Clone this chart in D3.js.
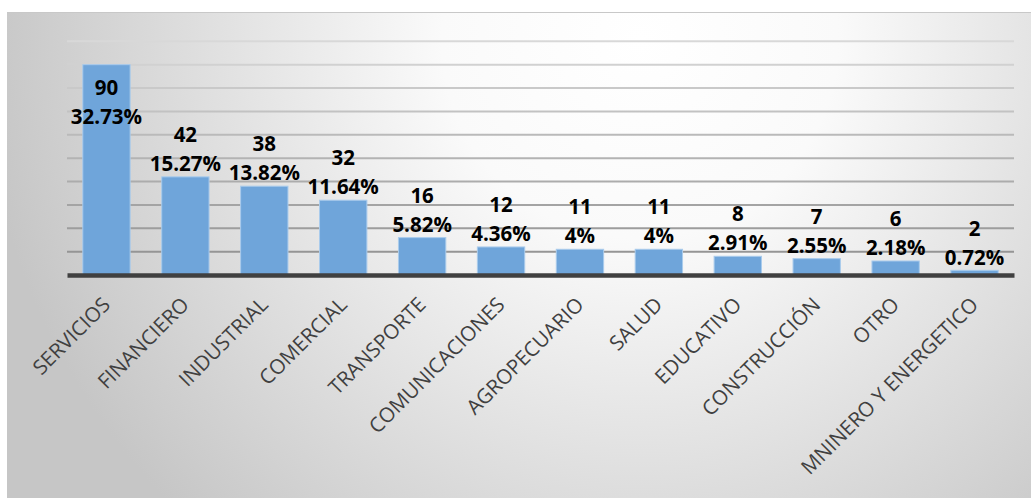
<!DOCTYPE html>
<html>
<head>
<meta charset="utf-8">
<script src="https://cdn.jsdelivr.net/npm/d3@7"></script>
<style>
  html, body { margin: 0; padding: 0; background: #ffffff; }
  svg { display: block; }
</style>
</head>
<body>
<script>
const categories = ["SERVICIOS", "FINANCIERO", "INDUSTRIAL", "COMERCIAL", "TRANSPORTE", "COMUNICACIONES", "AGROPECUARIO", "SALUD", "EDUCATIVO", "CONSTRUCCIÓN", "OTRO", "MNINERO Y ENERGETICO"];
const counts = [90, 42, 38, 32, 16, 12, 11, 11, 8, 7, 6, 2];
const percentLabels = ["32.73%", "15.27%", "13.82%", "11.64%", "5.82%", "4.36%", "4%", "4%", "2.91%", "2.55%", "2.18%", "0.72%"];
const yTicks = [0, 10, 20, 30, 40, 50, 60, 70, 80, 90, 100];

const W = 1031, H = 498;
const svg = d3.select("body").append("svg").attr("width", W).attr("height", H);
const defs = svg.append("defs");

const rg = defs.append("radialGradient").attr("id", "bg")
  .attr("gradientUnits", "userSpaceOnUse")
  .attr("cx", 640).attr("cy", 40).attr("r", 660);
rg.append("stop").attr("offset", "0%").attr("stop-color", "#ffffff");
rg.append("stop").attr("offset", "30%").attr("stop-color", "#fafafa");
rg.append("stop").attr("offset", "100%").attr("stop-color", "#c6c6c6");

// chart frame
svg.append("rect").attr("x", 7).attr("y", 12).attr("width", W - 7).attr("height", H - 12)
  .attr("fill", "url(#bg)");
svg.append("line").attr("x1", 7).attr("x2", W).attr("y1", 12.5).attr("y2", 12.5)
  .attr("stroke", "#c8c8c8").attr("stroke-width", 1);

const plotL = 67, plotR = 1014, plotT = 41.3, plotB = 275;

const x = d3.scaleBand().domain(categories).range([plotL, plotR]).paddingInner(0.4).paddingOuter(0.2);
const y = d3.scaleLinear().domain([0, 100]).range([plotB, plotT]);

const gridColor = d3.interpolateRgb("#d8d8d8", "#8e8e8e");
svg.append("g").selectAll("line").data(yTicks.filter(t => t > 0)).join("line")
  .attr("x1", plotL).attr("x2", plotR)
  .attr("y1", d => y(d)).attr("y2", d => y(d))
  .attr("stroke", d => gridColor(1 - d / 100))
  .attr("stroke-width", 2);

// bars
svg.append("g").selectAll("rect").data(counts).join("rect")
  .attr("x", (d, i) => x(categories[i]))
  .attr("y", d => y(d))
  .attr("width", x.bandwidth())
  .attr("height", d => plotB - y(d))
  .attr("fill", "#6fa5da")
  .attr("stroke", "#a9cbec")
  .attr("stroke-width", 1);

// x axis baseline
const xAxis = d3.axisBottom(x).tickSize(0).tickFormat("");
const ax = svg.append("g").attr("transform", `translate(0,${plotB})`).call(xAxis);
ax.select(".domain").attr("stroke", "#404040").attr("stroke-width", 4.5);

// category labels
svg.append("g").selectAll("text").data(categories).join("text")
  .attr("transform", d => `translate(${x(d) + x.bandwidth() / 2 + 5},${plotB + 31}) rotate(-45)`)
  .attr("text-anchor", "end")
  .attr("font-family", "'Open Sans', sans-serif")
  .attr("font-size", 20.5)
  .attr("fill", "#404040")
  .text(d => d);

// data labels
const lbl = svg.append("g").attr("font-family", "'Open Sans', sans-serif")
  .attr("font-weight", "bold").attr("font-size", 20.5).attr("fill", "#000")
  .attr("text-anchor", "middle");
counts.forEach((v, i) => {
  const cx = x(categories[i]) + x.bandwidth() / 2;
  let l1 = Math.max(y(v) - 42, 88);
  const l2 = l1 + 29;
  lbl.append("text").attr("x", cx).attr("y", l1).attr("dy", "0.35em").text(v);
  lbl.append("text").attr("x", cx).attr("y", l2).attr("dy", "0.35em").text(percentLabels[i]);
});
</script>
</body>
</html>
